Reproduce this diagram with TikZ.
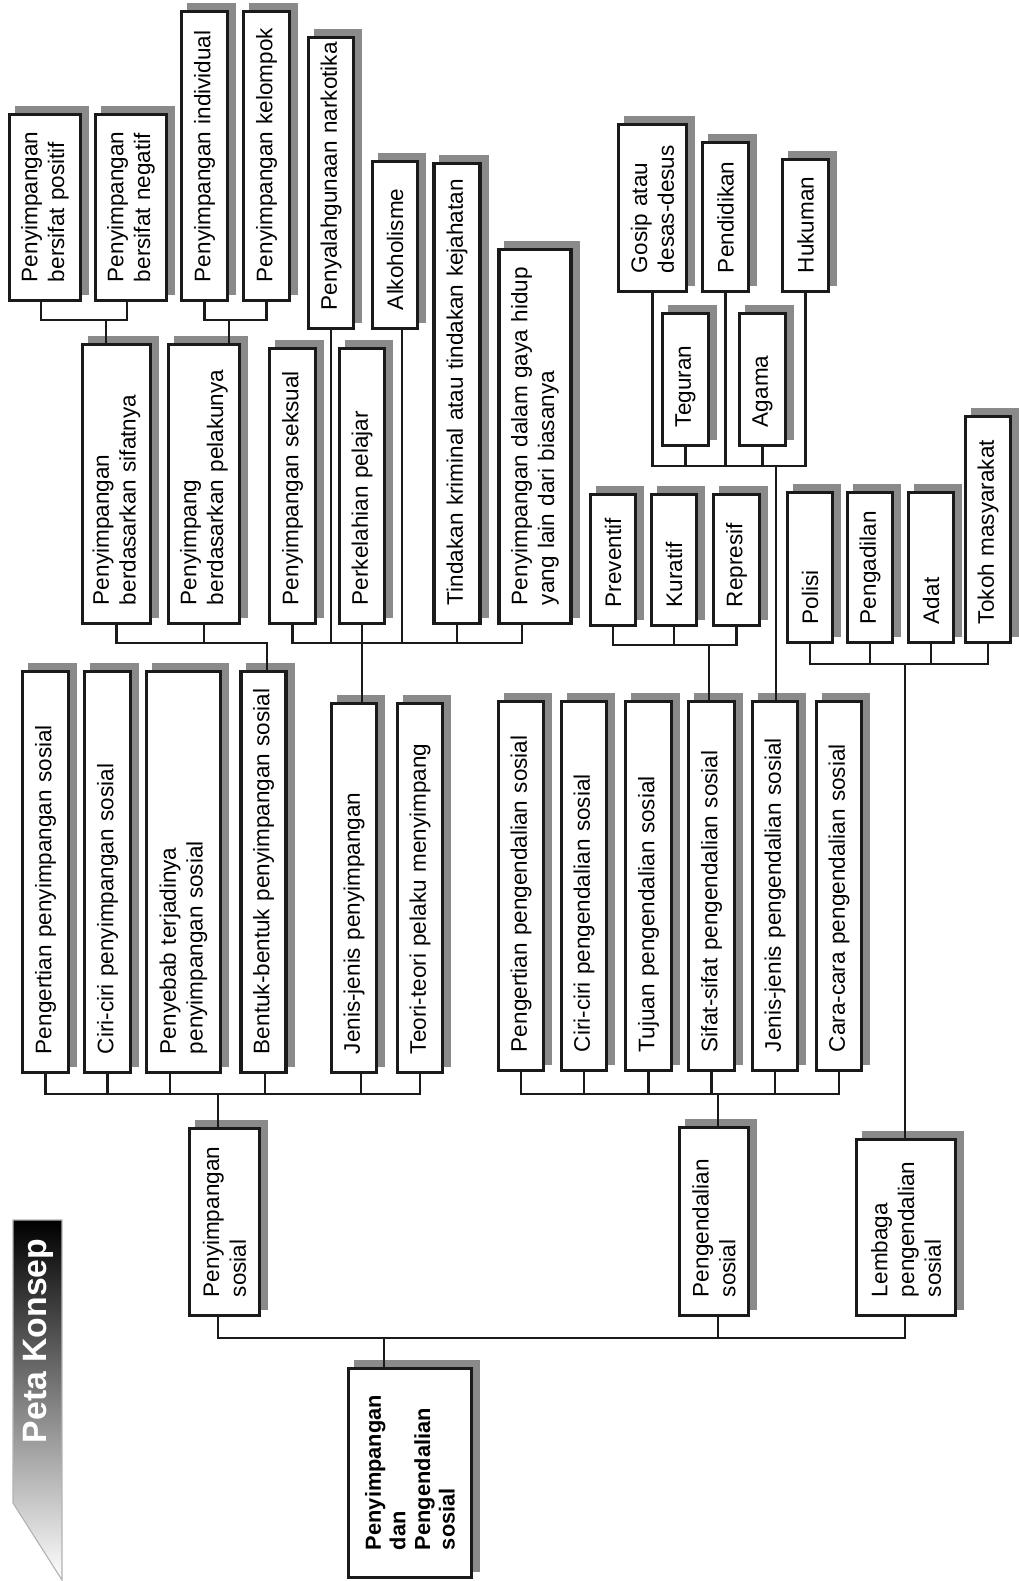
\documentclass[tikz,border=0pt]{standalone}
\usepackage{fontspec}
\setmainfont{Liberation Sans}
\definecolor{inkBlack}{RGB}{26, 26, 26}
\definecolor{shadowGray}{RGB}{138, 138, 138}
\usetikzlibrary{backgrounds}

\begin{document}
\begin{tikzpicture}[
    x=0.025cm, y=-0.025cm,
    boxbase/.style={draw=inkBlack, line width=2.3pt, fill=white, rotate=90, align=left,
                    inner xsep=0pt, inner ysep=2pt, font=\fontsize{16}{19}\selectfont,
                    execute at begin node={\leftskip=0.4625cm\hyphenpenalty=10000\relax}},
    box/.code 2 args={%
      \pgfmathsetmacro\boxL{(#1-3)*0.025}%
      \pgfmathsetmacro\boxT{(#2-3)*0.025}%
      \edef\boxset{\noexpand\tikzset{minimum width=\boxL cm, text width=\boxL cm, minimum height=\boxT cm}}%
      \boxset\tikzset{boxbase}},
    rootbox/.style={draw=inkBlack, line width=2.6pt, fill=white, rotate=90, align=left,
                    minimum width=5.225cm, text width=3.85cm, minimum height=3.075cm,
                    inner xsep=0.6875cm, font=\fontsize{15.5}{17.5}\selectfont\bfseries},
    conn/.style={draw=inkBlack, line width=1.7pt}
  ]
    \useasboundingbox (0,0) rectangle (1019,1581);

    % Peta Konsep banner
    \shade[top color=black, middle color=black!95, bottom color=white]
      (13,1220) -- (62,1220) -- (62,1580) -- (13,1503) -- cycle;
    \draw[gray!60, line width=0.8pt] (13,1220) -- (62,1220) -- (62,1580) -- (13,1503) -- cycle;
    \node[rotate=90, text=white, font=\fontsize{24}{28}\selectfont\bfseries] (title) at (38,1341) {Peta Konsep};

    % Root
    \node[rootbox] (root) at (410,1473) {Penyimpangan\\dan\\Pengendalian\\sosial};

    % Level 1
    \node[box={190}{73}] (penyS) at (224.5,1222) {Penyimpangan\\sosial};
    \node[box={191}{72}] (pengS) at (714,1221.5) {Pengendalian\\sosial};
    \node[box={179}{102}] (lemba) at (906,1227.5) {Lembaga\\pengendalian\\sosial};

    % Level 2: penyimpangan
    \node[box={404}{49}] (pengP) at (45.5,872) {Pengertian penyimpangan sosial};
    \node[box={404}{49}] (ciriP) at (107.5,872) {Ciri-ciri penyimpangan sosial};
    \node[box={404}{77}] (sebab) at (183.5,872) {Penyebab terjadinya\\penyimpangan sosial};
    \node[box={404}{48}] (bentk) at (263.5,872) {Bentuk-bentuk penyimpangan sosial};
    \node[box={372}{48}] (jenisP) at (354,888) {Jenis-jenis penyimpangan};
    \node[box={372}{48}] (teori) at (420,888) {Teori-teori pelaku menyimpang};

    % Level 2: pengendalian
    \node[box={372}{48}] (pengK) at (521,886) {Pengertian pengendalian sosial};
    \node[box={372}{48}] (ciriK) at (584,886) {Ciri-ciri pengendalian sosial};
    \node[box={372}{49}] (tujuan) at (648.5,886) {Tujuan pengendalian sosial};
    \node[box={372}{49}] (sifatK) at (711.5,886) {Sifat-sifat pengendalian sosial};
    \node[box={372}{48}] (jenisK) at (775,886) {Jenis-jenis pengendalian sosial};
    \node[box={372}{48}] (cara) at (839,886) {Cara-cara pengendalian sosial};

    % Level 3
    \node[box={282}{71}] (sifat) at (116.5,484) {Penyimpangan\\berdasarkan sifatnya};
    \node[box={282}{74}] (pelak) at (204,484) {Penyimpang\\berdasarkan pelakunya};
    \node[box={278}{49}] (seksu) at (292.5,486) {Penyimpangan seksual};
    \node[box={278}{48}] (perke) at (362,486) {Perkelahian pelajar};
    \node[box={134}{48}] (preve) at (613,560) {Preventif};
    \node[box={134}{48}] (kurat) at (674,560) {Kuratif};
    \node[box={134}{49}] (repre) at (736.5,560) {Represif};
    \node[box={153}{48}] (polis) at (810,567.5) {Polisi};
    \node[box={153}{48}] (penga) at (870,567.5) {Pengadilan};
    \node[box={153}{48}] (adat) at (931,567.5) {Adat};
    \node[box={229}{48}] (tokoh) at (988,529.5) {Tokoh masyarakat};

    % Level 4
    \node[box={189}{74}] (posit) at (45,207.5) {Penyimpangan\\bersifat positif};
    \node[box={189}{74}] (negat) at (131,207.5) {Penyimpangan\\bersifat negatif};
    \node[box={292}{49}] (indiv) at (204.5,156) {Penyimpangan individual};
    \node[box={292}{49}] (kelom) at (266.5,156) {Penyimpangan kelompok};
    \node[box={294}{48}] (narko) at (331,183) {Penyalahgunaan narkotika};
    \node[box={170}{48}] (alkoh) at (395,245) {Alkoholisme};
    \node[box={463}{49}] (krimi) at (457,393.5) {Tindakan kriminal atau tindakan kejahatan};
    \node[box={377}{75}] (gaya) at (535,436.5) {Penyimpangan dalam gaya hidup\\yang lain dari biasanya};
    \node[box={170}{71}] (gosip) at (652.5,208) {Gosip atau\\desas-desus};
    \node[box={152}{49}] (pendi) at (725.5,217) {Pendidikan};
    \node[box={135}{49}] (hukum) at (805.5,225.5) {Hukuman};
    \node[box={135}{49}] (tegur) at (685.5,379.5) {Teguran};
    \node[box={135}{49}] (agama) at (762.5,379.5) {Agama};

    % Shadows
    \begin{scope}[on background layer]
      \foreach \n in {root,penyS,pengS,lemba,pengP,ciriP,sebab,bentk,jenisP,teori,
                      pengK,ciriK,tujuan,sifatK,jenisK,cara,sifat,pelak,seksu,perke,
                      preve,kurat,repre,polis,penga,adat,tokoh,posit,negat,indiv,kelom,
                      narko,alkoh,krimi,gaya,gosip,pendi,hukum,tegur,agama}
        \fill[shadowGray] ([shift={(7,-7)}]\n.south west) rectangle ([shift={(7,-7)}]\n.north east);
    \end{scope}

    % Sifatnya / pelakunya
    \coordinate (jSifat) at (106,320);
    \draw[conn] (posit.west -| 41,0) |- (jSifat) -| (negat.west -| 127,0);
    \draw[conn] (jSifat) -- (sifat.east -| jSifat);
    \coordinate (jPelaku) at (229,320);
    \draw[conn] (indiv.west) |- (jPelaku) -| (kelom.west);
    \draw[conn] (jPelaku) -- (pelak.east -| jPelaku);

    % Bentuk-bentuk
    \coordinate (jBentuk) at (267,643);
    \draw[conn] (sifat.west) |- (jBentuk) -- (bentk.east -| jBentuk);
    \draw[conn] (pelak.west) -- (pelak.west |- jBentuk);

    % Jenis-jenis penyimpangan
    \coordinate (jJenis) at (362,643);
    \draw[conn] (seksu.west) |- (jJenis) -| (gaya.west -| 522,0);
    \draw[conn] (narko.west) -- (narko.west |- jJenis);
    \draw[conn] (perke.west) -- (jenisP.east -| perke.west);
    \draw[conn] (alkoh.west -| 402,0) -- (jJenis -| 402,0);
    \draw[conn] (krimi.west) -- (krimi.west |- jJenis);

    % Penyimpangan sosial
    \coordinate (jPeny) at (218,1094);
    \draw[conn] (pengP.west) |- (jPeny) -| (teori.west);
    \draw[conn] (ciriP.west) -- (ciriP.west |- jPeny);
    \draw[conn] (sebab.west -| 170,0) -- (jPeny -| 170,0);
    \draw[conn] (bentk.west -| 265,0) -- (jPeny -| 265,0);
    \draw[conn] (jenisP.west -| 361,0) -- (jPeny -| 361,0);
    \draw[conn] (jPeny) -- (penyS.east -| jPeny);

    % Pengendalian sosial
    \coordinate (jKendali) at (718,1094);
    \draw[conn] (pengK.west) |- (jKendali) -| (cara.west);
    \foreach \n in {ciriK,tujuan,sifatK,jenisK}
      \draw[conn] (\n.west) -- (\n.west |- jKendali);
    \draw[conn] (jKendali) -- (pengS.east -| jKendali);

    % Sifat-sifat
    \coordinate (jSifatK) at (709,645);
    \draw[conn] (preve.west) |- (jSifatK) -| (repre.west);
    \draw[conn] (kurat.west) -- (kurat.west |- jSifatK);
    \draw[conn] (jSifatK) -- (sifatK.east -| jSifatK);

    % Jenis-jenis pengendalian
    \coordinate (jJenisK) at (776,466);
    \draw[conn] (gosip.west) |- (jJenisK) -| (hukum.west);
    \foreach \n in {tegur,pendi,agama}
      \draw[conn] (\n.west) -- (\n.west |- jJenisK);
    \draw[conn] (jJenisK) -- (jenisK.east -| jJenisK);

    % Lembaga
    \coordinate (jLembaga) at (905,664);
    \draw[conn] (polis.west) |- (jLembaga) -| (tokoh.west);
    \foreach \n in {penga,adat}
      \draw[conn] (\n.west) -- (\n.west |- jLembaga);
    \draw[conn] (jLembaga) -- (lemba.east -| jLembaga);

    % Root
    \coordinate (jRoot) at (384,1338);
    \draw[conn] (penyS.west -| 218,0) |- (jRoot) -| (lemba.west -| 905,0);
    \draw[conn] (pengS.west -| 718,0) -- (jRoot -| 718,0);
    \draw[conn] (jRoot) -- (root.east -| jRoot);
  \end{tikzpicture}
\end{document}
